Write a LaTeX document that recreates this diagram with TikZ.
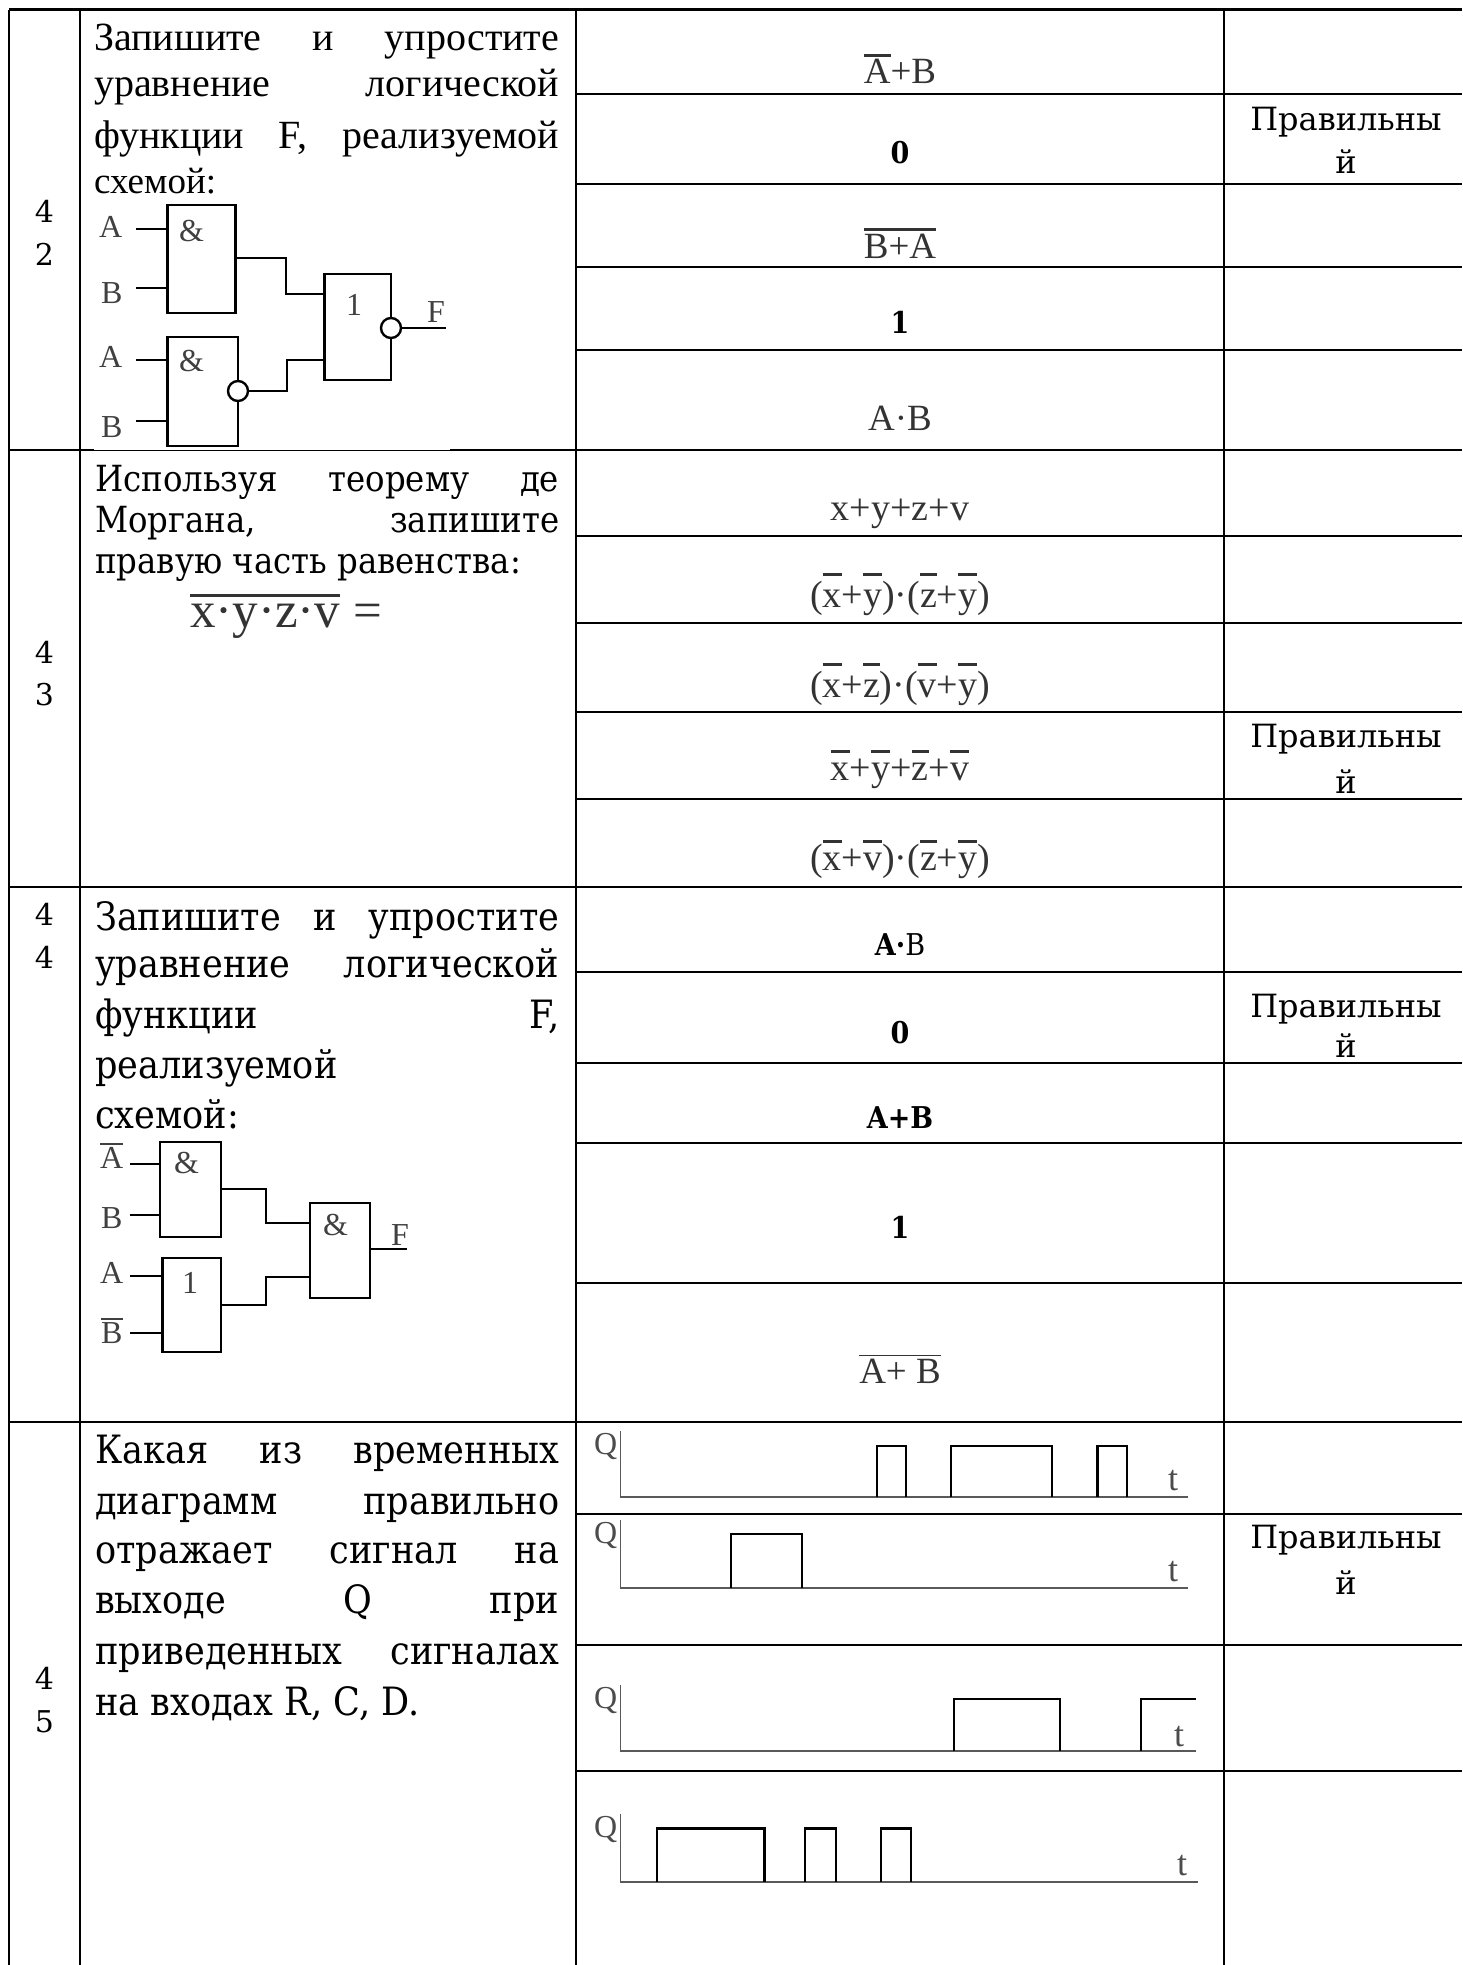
\documentclass[tikz,border=0pt]{standalone}
\usepackage{fontspec}
\setmainfont{Liberation Serif}
\newfontfamily\cam[FakeStretch=0.9]{DejaVu Serif}
\newfontfamily\camw{DejaVu Serif}
\usetikzlibrary{calc}
\newsavebox\obbox
\newcommand\ob[3][2.6pt]{\sbox\obbox{#3}\rlap{\raise#2\hbox{\vrule width\wd\obbox height #1 depth 0pt}}\usebox\obbox}
\newcommand\fs[1]{\fontsize{#1}{#1}\selectfont}
\tikzset{
  tline/.style={line width=2.8pt},
  body/.style={anchor=base west, inner sep=0pt, font=\cam\fs{39}},
  mbody/.style={anchor=base west, inner sep=0pt, font=\cam\fs{36}},
  tbody/.style={anchor=base west, inner sep=0pt, font=\fs{40}},
  ans/.style={anchor=base, inner sep=0pt, font=\fs{37}, text=black!80},
  lans/.style={anchor=base, inner sep=0pt, font=\fs{38}, text=black!80},
  bans/.style={anchor=base, inner sep=0pt, font=\cam\bfseries\fs{30}},
  num/.style={anchor=base, inner sep=0pt, font=\camw\fs{30}},
  okl/.style={anchor=base, inner sep=0pt, font=\camw\fs{32}},
  gate/.style={draw, line width=2.6pt, inner sep=0pt, outer sep=0pt, anchor=north west},
  wire/.style={line width=2.6pt},
  bub/.style={circle, draw, line width=2.4pt, fill=white, minimum size=20pt, inner sep=0pt, outer sep=0pt},
  glbl/.style={anchor=base west, inner sep=0pt, font=\fs{32}, text=black!75},
  axis/.style={line width=1.8pt, black!65},
  pulse/.style={line width=2.5pt},
  qlbl/.style={anchor=base west, inner sep=0pt, font=\fs{32}, text=black!70},
  tlbl/.style={anchor=base, inner sep=0pt, font=\fs{36}, text=black!70},
}
\begin{document}
\begin{tikzpicture}[x=1pt,y=-1pt]
\useasboundingbox (0,0) rectangle (1462,1965);
% ---------------- table grid ----------------
\draw[tline] (9,9.5) -- (1462,9.5);
\foreach \xx in {9,80,576,1224} \draw[tline] (\xx,9.5) -- (\xx,1965);
\foreach \yy in {450,887,1422} \draw[tline] (9,\yy) -- (1462,\yy);
\foreach \yy in {94,184,267,350,536,623,712,799,972,1063,1143,1283,1514,1645,1771}
  \draw[tline] (576,\yy) -- (1462,\yy);
\fill[white] (94,448) rectangle (450,449.8);
% ---------------- numbers ----------------
\node[num] (n1a) at (44.5,222) {4};
\node[num] (n1b) at (44.5,265) {2};
\node[num] (n2a) at (44.5,663) {4};
\node[num] (n2b) at (44.5,705) {3};
\node[num] (n3a) at (44.5,925) {4};
\node[num] (n3b) at (44.5,968) {4};
\node[num] (n4a) at (44.5,1689) {4};
\node[num] (n4b) at (44.5,1732) {5};
% ---------------- question 42 ----------------
\node[tbody] (q1a) at (94,50) {\makebox[465pt][s]{Запишите и упростите}};
\node[tbody] (q1b) at (94,96) {\makebox[465pt][s]{уравнение логической}};
\node[tbody] (q1c) at (94,148) {\makebox[465pt][s]{функции F, реализуемой}};
\node[tbody, font=\fs{37}] (q1d) at (94,193) {схемой:};
% gates
\node[gate, minimum width=67.8pt, minimum height=108pt] (g1) at (167.6,205) {};
\node[gate, minimum width=70.4pt, minimum height=109pt] (g2) at (167.6,337) {};
\node[gate, minimum width=66.5pt, minimum height=106pt] (g3) at (324.5,274) {};
\node[glbl] (g1l) at (179,241) {\&};
\node[glbl] (g2l) at (179,371) {\&};
\node[glbl] (g3l) at (346,315) {1};
\node[glbl] (iA1) at (99,237) {A};
\node[glbl] (iB1) at (101,303) {B};
\node[glbl] (iA2) at (99,367) {A};
\node[glbl] (iB2) at (101,437) {B};
\coordinate (i1) at (136,229);
\coordinate (i2) at (136,288);
\coordinate (i3) at (136,360);
\coordinate (i4) at (136,421);
\draw[wire] (i1) -- (g1.west |- i1);
\draw[wire] (i2) -- (g1.west |- i2);
\draw[wire] (i3) -- (g2.west |- i3);
\draw[wire] (i4) -- (g2.west |- i4);
\coordinate (w1) at (286,258);
\coordinate (w2) at (286,294);
\draw[wire] (g1.east |- w1) -- (w1) -- (w2) -- (g3.west |- w2);
\node[bub] (b2) at (238,391) {};
\coordinate (w3) at (287,391);
\coordinate (w4) at (287,360);
\draw[wire] (b2.east) -- (w3) -- (w4) -- (g3.west |- w4);
\node[bub] (b3) at (391,328) {};
\coordinate (f1) at (446,328);
\draw[wire] (b3.east) -- (f1);
\node[glbl] (fl1) at (427,322) {F};
% answers 42
\node[ans] (a1) at (900,83) {\ob{26pt}{A}+B};
\node[bans] (a2) at (900,163) {0};
\node[ans] (a3) at (900,258) {\ob{27.5pt}{B+A}};
\node[bans] (a4) at (900,333) {1};
\node[ans] (a5) at (900,430) {A·B};
\node[okl] (r1a) at (1346,130) {Правильны};
\node[okl] (r1b) at (1346,173) {й};
% ---------------- question 43 ----------------
\node[mbody] (q2a) at (95,491) {\makebox[464pt][s]{Используя теорему де}};
\node[mbody] (q2b) at (95,532) {\makebox[464pt][s]{Моргана, запишите}};
\node[mbody] (q2c) at (95,573) {правую часть равенства:};
\node[anchor=base west, inner sep=0pt, font=\fs{51}, text=black!80] (q2f) at (190,627) {\ob[3pt]{30pt}{x·y·z·v} =};
\node[lans] (c1) at (900,520) {x+y+z+v};
\node[lans] (c2) at (900,607) {(\ob{31pt}{x}+\ob{31pt}{y})·(\ob{31pt}{z}+\ob{31pt}{y})};
\node[lans] (c3) at (900,697) {(\ob{31pt}{x}+\ob{31pt}{z})·(\ob{31pt}{v}+\ob{31pt}{y})};
\node[lans] (c4) at (900,780) {\ob{27pt}{x}+\ob{27pt}{y}+\ob{27pt}{z}+\ob{27pt}{v}};
\node[lans] (c5) at (900,870) {(\ob{27pt}{x}+\ob{27pt}{v})·(\ob{27pt}{z}+\ob{27pt}{y})};
\node[okl] (r2a) at (1346,747) {Правильны};
\node[okl] (r2b) at (1346,793) {й};
% ---------------- question 44 ----------------
\node[body] (q3a) at (95,930) {\makebox[464pt][s]{Запишите и упростите}};
\node[body] (q3b) at (95,977) {\makebox[464pt][s]{уравнение логической}};
\node[body] (q3c) at (95,1028) {\makebox[464pt][s]{функции F,}};
\node[body] (q3d) at (95,1078) {реализуемой};
\node[body] (q3e) at (95,1128) {схемой:};
% gates
\node[gate, minimum width=61pt, minimum height=95pt] (g4) at (160,1142) {};
\node[gate, minimum width=58.4pt, minimum height=94pt] (g5) at (162.6,1258) {};
\node[gate, minimum width=60pt, minimum height=95pt] (g6) at (310,1203) {};
\node[glbl] (g4l) at (174,1173) {\&};
\node[glbl] (g5l) at (182,1293) {1};
\node[glbl] (g6l) at (323,1235) {\&};
\node[glbl] (jA1) at (100,1168) {\ob[1.8pt]{23pt}{A}};
\node[glbl] (jB1) at (101,1228) {B};
\node[glbl] (jA2) at (100,1283) {A};
\node[glbl] (jB2) at (101,1343) {\ob[1.8pt]{23pt}{B}};
\coordinate (j1) at (130,1164);
\coordinate (j2) at (130,1215);
\coordinate (j3) at (130,1276);
\coordinate (j4) at (130,1333);
\draw[wire] (j1) -- (g4.west |- j1);
\draw[wire] (j2) -- (g4.west |- j2);
\draw[wire] (j3) -- (g5.west |- j3);
\draw[wire] (j4) -- (g5.west |- j4);
\coordinate (v1) at (266,1189);
\coordinate (v2) at (266,1223);
\draw[wire] (g4.east |- v1) -- (v1) -- (v2) -- (g6.west |- v2);
\coordinate (v3) at (266,1305);
\coordinate (v4) at (266,1277);
\draw[wire] (g5.east |- v3) -- (v3) -- (v4) -- (g6.west |- v4);
\coordinate (f2) at (407,1249);
\draw[wire] (g6.east |- f2) -- (f2);
\node[glbl] (fl2) at (391,1245) {F};
% answers 44
\node[bans] (d1) at (900,955) {A·\mdseries B};
\node[bans] (d2) at (900,1043) {0};
\node[bans] (d3) at (900,1128) {A+B};
\node[bans] (d4) at (900,1238) {1};
\node[ans] (d5) at (900,1383) {\ob[1.5pt]{27pt}{A+ B}};
\node[okl] (r3a) at (1346,1017) {Правильны};
\node[okl] (r3b) at (1346,1057) {й};
% ---------------- question 45 ----------------
\node[body] (q4a) at (95,1463) {\makebox[464pt][s]{Какая из временных}};
\node[body] (q4b) at (95,1514) {\makebox[464pt][s]{диаграмм правильно}};
\node[body] (q4c) at (95,1563) {\makebox[464pt][s]{отражает сигнал на}};
\node[body] (q4d) at (95,1613) {\makebox[464pt][s]{выходе Q при}};
\node[body] (q4e) at (95,1664) {\makebox[464pt][s]{приведенных сигналах}};
\node[body] (q4f) at (95,1715) {на входах R, C, D.};
\node[okl] (r4a) at (1346,1548) {Правильны};
\node[okl] (r4b) at (1346,1594) {й};
% timing diagram 1
\node[qlbl] (Q1) at (594,1454) {Q};
\node[tlbl] (t1) at (1173,1490) {t};
\draw[axis] (620.5,1431) -- (620.5,1497) -- (1187.5,1497);
\draw[pulse] (877,1497) |- (906,1446) -- (906,1497);
\draw[pulse] (951,1497) |- (1052,1446) -- (1052,1497);
\draw[pulse] (1097.5,1497) |- (1127,1446) -- (1127,1497);
% timing diagram 2
\node[qlbl] (Q2) at (594,1543) {Q};
\node[tlbl] (t2) at (1173,1581) {t};
\draw[axis] (620.5,1520) -- (620.5,1588) -- (1187.5,1588);
\draw[pulse] (731,1588) |- (802,1534) -- (802,1588);
% timing diagram 3
\node[qlbl] (Q3) at (594,1708) {Q};
\node[tlbl] (t3) at (1179,1746) {t};
\draw[axis] (620.5,1685) -- (620.5,1751) -- (1196,1751);
\draw[pulse] (954,1751) |- (1060,1699) -- (1060,1751);
\draw[pulse] (1141,1751) |- (1196,1699);
% timing diagram 4
\node[qlbl] (Q4) at (594,1837) {Q};
\node[tlbl] (t4) at (1182,1875) {t};
\draw[axis] (620.5,1814) -- (620.5,1882) -- (1197.6,1882);
\draw[pulse] (657,1882) |- (764.5,1828.5) -- (764.5,1882);
\draw[pulse] (805,1882) |- (836,1828.5) -- (836,1882);
\draw[pulse] (881,1882) |- (911,1828.5) -- (911,1882);
\end{tikzpicture}
\end{document}
